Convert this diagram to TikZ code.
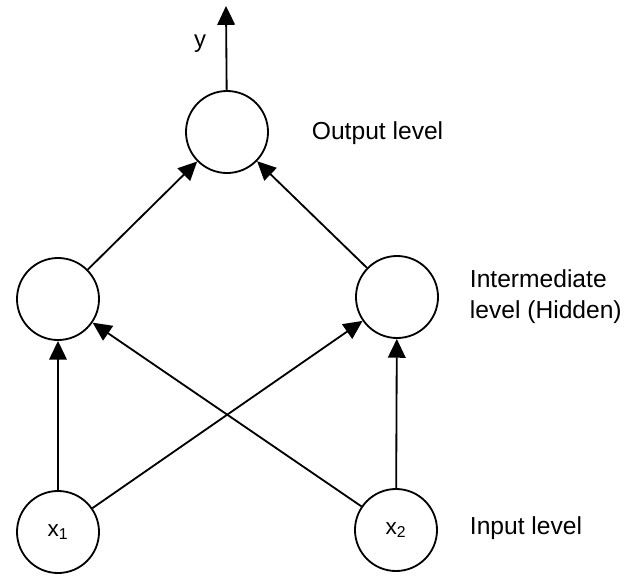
\documentclass[tikz,border=0pt]{standalone}
\usepackage{fontspec}
\setmainfont{Liberation Sans}
\usepackage{tikz}
\usetikzlibrary{arrows.meta, positioning}

\begin{document}
\begin{tikzpicture}[
    x=0.025cm, y=-0.025cm,
    neuron/.style={draw, circle, line width=1.3pt, minimum size=2.05cm, inner sep=0pt,
                   font=\fontsize{16}{18}\selectfont},
    lvl/.style={anchor=west, align=left, inner sep=0pt, font=\fontsize{17.5}{22}\selectfont},
    >={Triangle[length=0.47cm, width=0.44cm]}, line width=1.3pt
]
\useasboundingbox (0,0) rectangle (634,575);

\node[neuron] (out)  at (227,132) {};
\node[neuron] (hidL) at (58,299)  {};
\node[neuron] (hidR) at (397,297) {};
\node[neuron] (inA)  at (58,532)  {x\textsubscript{1}};
\node[neuron] (inB)  at (396,530) {x\textsubscript{2}};
\coordinate (ytip) at (226,6);

\node[font=\fontsize{17}{18}\selectfont] (ylab) at (200,44) {y};
\node[lvl] (outlab) at (311,133) {Output level};
\node[lvl] (hidlab) at (469,297) {Intermediate\\level (Hidden)};
\node[lvl] (inlab)  at (469,528) {Input level};

\draw[->] (inA) -- (hidL);
\draw[->] (inA) -- (hidR);
\draw[->] (inB) -- (hidL);
\draw[->] (inB) -- (hidR);
\draw[->] (hidL) -- (out);
\draw[->] (hidR) -- (out);
\draw[->] (out) -- (ytip);
\end{tikzpicture}
\end{document}
